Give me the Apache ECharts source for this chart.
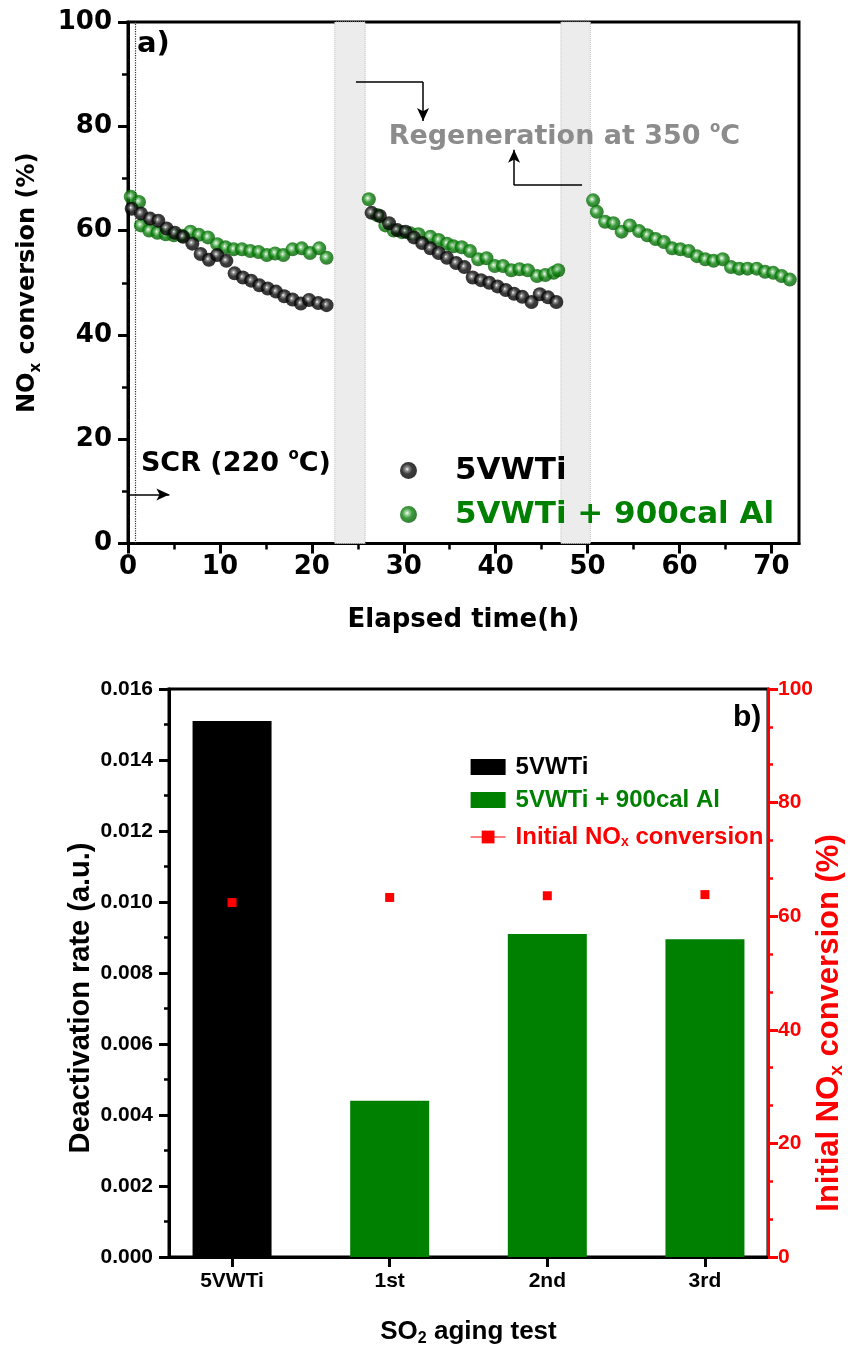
<!DOCTYPE html>
<html>
<head>
<meta charset="utf-8">
<script src="https://cdn.jsdelivr.net/npm/echarts@6/dist/echarts.min.js"></script>
<style>
  html, body { margin: 0; padding: 0; background: #fff; }
  #main { width: 854px; height: 1358px; }
</style>
</head>
<body>
<div id="main"></div>
<script>
// a) NOx conversion during SO2 aging, three 22 h runs with regeneration between
var vwtiTime = [0.4, 1.4, 2.4, 3.3, 4.2, 5.1, 6.0, 7.0, 7.9, 8.8, 9.7, 10.7, 11.6, 12.5, 13.4, 14.3, 15.2, 16.1, 17.0, 17.9, 18.8, 19.7, 20.7, 21.6,
  26.5, 27.4, 28.4, 29.3, 30.2, 31.1, 32.0, 32.9, 33.8, 34.7, 35.7, 36.6, 37.5, 38.4, 39.3, 40.2, 41.1, 42.0, 42.9, 43.9, 44.8, 45.7, 46.6];
var vwtiConv = [64.2, 63.3, 62.3, 61.9, 60.4, 59.6, 58.8, 57.5, 55.5, 54.4, 55.3, 54.2, 51.8, 51.0, 50.4, 49.5, 48.9, 48.3, 47.4, 46.8, 46.0, 46.7, 46.1, 45.7,
  63.4, 62.8, 61.4, 60.1, 59.8, 58.7, 57.6, 56.6, 55.7, 54.8, 53.8, 53.0, 51.0, 50.5, 50.0, 49.3, 48.6, 47.9, 47.3, 46.3, 47.8, 47.2, 46.3];
var alTime = [0.3, 1.2, 1.4, 2.3, 3.2, 4.1, 5.0, 5.9, 6.8, 7.7, 8.7, 9.7, 10.6, 11.5, 12.4, 13.3, 14.2, 15.1, 16.0, 16.9, 17.9, 18.9, 19.8, 20.8, 21.6,
  26.2, 27.1, 28.0, 28.9, 29.8, 30.7, 31.6, 32.9, 33.8, 34.7, 35.4, 36.3, 37.2, 38.1, 39.0, 39.9, 40.8, 41.7, 42.6, 43.5, 44.5, 45.4, 46.3, 46.8,
  50.6, 51.0, 51.9, 52.8, 53.7, 54.6, 55.6, 56.5, 57.4, 58.3, 59.2, 60.1, 61.0, 61.9, 62.8, 63.7, 64.7, 65.6, 66.5, 67.4, 68.4, 69.3, 70.2, 71.1, 72.0];
var alConv = [66.5, 65.5, 61.0, 60.0, 59.6, 59.3, 59.1, 59.0, 59.8, 59.2, 58.7, 57.4, 56.8, 56.4, 56.4, 56.1, 55.9, 55.3, 55.6, 55.3, 56.4, 56.6, 55.7, 56.6, 54.8,
  66.0, 63.0, 61.0, 60.0, 59.7, 59.5, 59.3, 58.8, 58.2, 57.5, 57.0, 56.8, 56.1, 54.5, 54.7, 53.2, 53.2, 52.4, 52.6, 52.4, 51.3, 51.5, 51.9, 52.4,
  65.8, 63.6, 61.7, 61.4, 59.8, 61.0, 59.9, 59.1, 58.4, 57.8, 56.6, 56.4, 56.1, 55.1, 54.5, 54.2, 54.5, 53.0, 52.7, 52.7, 52.7, 52.1, 51.9, 51.3, 50.6];
var regenBands = [[22.5, 25.8], [47.1, 50.3]];
var timeTicks = [0, 10, 20, 30, 40, 50, 60, 70];
var timeMinorTicks = [5, 15, 25, 35, 45, 55, 65];

// b) deactivation rate and initial conversion
var samples = ['5VWTi', '1st', '2nd', '3rd'];
var samplePos = [1, 2, 3, 4];
var deactRate = [0.0151, 0.0044, 0.0091, 0.00895];
var initConv = [62.4, 63.3, 63.6, 63.8];

var FA = 'DejaVu Sans';
var FB = 'Liberation Sans';
var GREEN = '#008000';
var RED = '#ff0000';

function pairs(xs, ys) {
  return xs.map(function (x, i) { return [x, ys[i]]; });
}

function ball(c1, c2, c3) {
  return {
    type: 'radial', x: 0.42, y: 0.42, r: 0.6,
    colorStops: [
      { offset: 0, color: '#ffffff' },
      { offset: 0.18, color: c1 },
      { offset: 0.5, color: c2 },
      { offset: 1, color: c3 }
    ]
  };
}

var barData = pairs(samplePos, deactRate);
var legendText = {
  bRef: '{n|5VWTi}',
  bAl: '{n|5VWTi + 900cal Al}',
  bInit: '{n|Initial NO}{s|x}{n| conversion}'
};

var chart = echarts.init(document.getElementById('main'), null, { renderer: 'canvas' });

var option = {
  animation: false,
  backgroundColor: '#fff',
  textStyle: { fontFamily: FA },
  title: [
    { text: 'a)', left: 137, top: 30, padding: 0,
      textStyle: { fontFamily: FA, fontWeight: 'bold', fontSize: 29, color: '#000' } },
    { text: 'b)', left: 733, top: 703, padding: 0,
      textStyle: { fontFamily: FB, fontWeight: 'bold', fontSize: 30, color: '#000' } }
  ],
  grid: [
    { left: 128, top: 22, width: 671, height: 521.5, show: true, borderColor: '#000', borderWidth: 3,
      backgroundColor: 'transparent', containLabel: false, outerBoundsMode: 'none' },
    { left: 169, top: 689, width: 599, height: 568, show: true, borderColor: '#000', borderWidth: 3,
      backgroundColor: 'transparent', containLabel: false, outerBoundsMode: 'none' }
  ],
  legend: [
    {
      orient: 'vertical', left: 400, top: 455, padding: 0,
      itemWidth: 17, itemHeight: 17, itemGap: 13, selectedMode: false,
      textStyle: { fontFamily: FA, fontWeight: 'bold', fontSize: 31, lineHeight: 30, padding: [0, 0, 0, 33] },
      data: [
        { name: '5VWTi', textStyle: { color: '#000' } },
        { name: '5VWTi + 900cal Al', textStyle: { color: GREEN } }
      ]
    },
    {
      orient: 'vertical', left: 470, top: 755, padding: 0,
      itemWidth: 35, itemHeight: 16, itemGap: 9, selectedMode: false,
      formatter: function (name) { return legendText[name]; },
      textStyle: {
        padding: [0, 0, 0, 5],
        rich: {
          n: { fontFamily: FB, fontWeight: 'bold', fontSize: 24, lineHeight: 24, verticalAlign: 'top' },
          s: { fontFamily: FB, fontWeight: 'bold', fontSize: 14, lineHeight: 14, verticalAlign: 'bottom', padding: [14, 0, 0, 0] }
        }
      },
      data: [
        { name: 'bRef', icon: 'rect', textStyle: { color: '#000' } },
        { name: 'bAl', icon: 'rect', textStyle: { color: GREEN } },
        { name: 'bInit', textStyle: { color: RED }, lineStyle: { opacity: 1, width: 1.2, color: RED } }
      ]
    }
  ],
  xAxis: [
    {
      gridIndex: 0, type: 'value', min: 0, max: 73, interval: 10,
      name: 'Elapsed time(h)', nameLocation: 'middle', nameGap: 64, nameMoveOverlap: false,
      nameTextStyle: { fontFamily: FA, fontWeight: 'bold', fontSize: 26, color: '#000' },
      axisLine: { show: true, onZero: false, lineStyle: { color: '#000', width: 3 } },
      axisTick: { show: true, customValues: timeTicks, length: 10, lineStyle: { color: '#000', width: 3 } },
      axisLabel: { customValues: timeTicks, fontFamily: FA, fontWeight: 'bold', fontSize: 26, color: '#000', margin: 11 },
      splitLine: { show: false }
    },
    {
      gridIndex: 0, type: 'value', min: 0, max: 73, position: 'bottom',
      axisLine: { show: false },
      axisTick: { show: true, customValues: timeMinorTicks, length: 6, lineStyle: { color: '#000', width: 2.5 } },
      axisLabel: { show: false },
      splitLine: { show: false }
    },
    {
      gridIndex: 1, type: 'value', min: 0.6, max: 4.4,
      name: '{b|SO}{s|2}{b| aging test}', nameLocation: 'middle', nameGap: 62, nameMoveOverlap: false,
      nameTextStyle: {
        rich: {
          b: { fontFamily: FB, fontWeight: 'bold', fontSize: 26, lineHeight: 28, verticalAlign: 'top', color: '#000' },
          s: { fontFamily: FB, fontWeight: 'bold', fontSize: 16, lineHeight: 16, verticalAlign: 'bottom', padding: [17, 0, 0, 0], color: '#000' }
        }
      },
      axisLine: { show: true, onZero: false, lineStyle: { color: '#000', width: 3 } },
      axisTick: { show: true, customValues: samplePos, length: 10, lineStyle: { color: '#000', width: 3 } },
      axisLabel: {
        customValues: samplePos, fontFamily: FB, fontWeight: 'bold', fontSize: 21, color: '#000', margin: 14,
        formatter: function (v) { return samples[Math.round(v) - 1]; }
      },
      splitLine: { show: false }
    }
  ],
  yAxis: [
    {
      gridIndex: 0, type: 'value', min: 0, max: 100, interval: 20,
      name: '{b|NO}{s|x}{b| conversion (%)}', nameLocation: 'middle', nameGap: 84, nameRotate: 90, nameMoveOverlap: false,
      nameTextStyle: {
        rich: {
          b: { fontFamily: FA, fontWeight: 'bold', fontSize: 24, lineHeight: 28, verticalAlign: 'top', color: '#000' },
          s: { fontFamily: FA, fontWeight: 'bold', fontSize: 15, lineHeight: 15, verticalAlign: 'bottom', padding: [16, 0, 0, 0], color: '#000' }
        }
      },
      axisLine: { show: true, onZero: false, lineStyle: { color: '#000', width: 3 } },
      axisTick: { show: true, length: 10, lineStyle: { color: '#000', width: 3 } },
      minorTick: { show: true, splitNumber: 2, length: 6, lineStyle: { color: '#000', width: 2.5 } },
      axisLabel: { fontFamily: FA, fontWeight: 'bold', fontSize: 26, color: '#000', margin: 16 },
      splitLine: { show: false },
      minorSplitLine: { show: false }
    },
    {
      gridIndex: 1, type: 'value', min: 0, max: 0.016, interval: 0.002,
      name: 'Deactivation rate (a.u.)', nameLocation: 'middle', nameGap: 74, nameRotate: 90, nameMoveOverlap: false,
      nameTextStyle: { fontFamily: FB, fontWeight: 'bold', fontSize: 29, color: '#000', padding: [0, 50, 0, 0] },
      axisLine: { show: true, onZero: false, lineStyle: { color: '#000', width: 3 } },
      axisTick: { show: true, length: 10, lineStyle: { color: '#000', width: 3 } },
      minorTick: { show: true, splitNumber: 2, length: 5, lineStyle: { color: '#000', width: 2.5 } },
      axisLabel: {
        fontFamily: FB, fontWeight: 'bold', fontSize: 21, color: '#000', margin: 16,
        formatter: function (v) { return v.toFixed(3); }
      },
      splitLine: { show: false },
      minorSplitLine: { show: false }
    },
    {
      gridIndex: 1, type: 'value', position: 'right', min: 0, max: 100, interval: 20,
      name: '{r|Initial NO}{s|x}{r| conversion (%)}', nameLocation: 'middle', nameGap: 46, nameRotate: 90, nameMoveOverlap: false,
      nameTextStyle: {
        padding: [0, 100, 0, 0],
        rich: {
          r: { fontFamily: FB, fontWeight: 'bold', fontSize: 31, lineHeight: 32, verticalAlign: 'top', color: RED },
          s: { fontFamily: FB, fontWeight: 'bold', fontSize: 19, lineHeight: 19, verticalAlign: 'bottom', padding: [19, 0, 0, 0], color: RED }
        }
      },
      axisLine: { show: true, onZero: false, lineStyle: { color: RED, width: 3 } },
      axisTick: { show: true, length: 10, lineStyle: { color: RED, width: 3 } },
      minorTick: { show: true, splitNumber: 3, length: 5, lineStyle: { color: RED, width: 2.5 } },
      axisLabel: { fontFamily: FB, fontWeight: 'bold', fontSize: 21, color: RED, margin: 10 },
      splitLine: { show: false },
      minorSplitLine: { show: false }
    }
  ],
  series: [
    {
      name: '5VWTi + 900cal Al', type: 'scatter', xAxisIndex: 0, yAxisIndex: 0,
      data: pairs(alTime, alConv),
      symbol: 'circle', symbolSize: 14,
      itemStyle: { color: ball('#8fce8f', '#0b800b', '#005a00') },
      emphasis: { disabled: true },
      markArea: {
        silent: true,
        itemStyle: { color: '#ececec', borderColor: '#bdbdbd', borderWidth: 1, borderType: 'dotted' },
        label: { show: false },
        data: regenBands.map(function (b) { return [{ xAxis: b[0] }, { xAxis: b[1] }]; })
      }
    },
    {
      name: '5VWTi', type: 'scatter', xAxisIndex: 0, yAxisIndex: 0,
      data: pairs(vwtiTime, vwtiConv),
      symbol: 'circle', symbolSize: 14,
      itemStyle: { color: ball('#7a7a7a', '#0a0a0a', '#000000') },
      emphasis: { disabled: true },
      markLine: {
        silent: true,
        symbol: ['none', 'none'],
        label: { show: false },
        lineStyle: { color: '#000', width: 1.5, type: 'solid' },
        data: [
          { xAxis: 0.8, lineStyle: { type: 'dotted', width: 1.2, color: '#333' } },
          [{ coord: [24.8, 88.5] }, { coord: [32.1, 88.5] }],
          [{ coord: [32.1, 88.5] }, { coord: [32.1, 81.0], symbol: 'arrow', symbolSize: [9, 13] }],
          [{ coord: [49.4, 68.7] }, { coord: [42.0, 68.7] }],
          [{ coord: [42.0, 68.7] }, { coord: [42.0, 75.5], symbol: 'arrow', symbolSize: [9, 13] }],
          [{ coord: [0, 9.4] }, { coord: [4.5, 9.4], symbol: 'arrow', symbolSize: [9, 13] }]
        ]
      },
      markPoint: {
        silent: true,
        symbol: 'circle', symbolSize: 1,
        itemStyle: { color: 'transparent' },
        data: [
          {
            coord: [28.3, 78.3],
            label: {
              show: true, position: 'right', distance: 0,
              formatter: '{g|Regeneration at 350 }{o|o}{g|C}',
              rich: {
                g: { fontFamily: FA, fontWeight: 'bold', fontSize: 27, lineHeight: 30, verticalAlign: 'bottom', color: '#8c8c8c' },
                o: { fontFamily: FA, fontWeight: 'bold', fontSize: 15, lineHeight: 15, verticalAlign: 'top', color: '#8c8c8c' }
              }
            }
          },
          {
            coord: [1.35, 15.6],
            label: {
              show: true, position: 'right', distance: 0,
              formatter: '{t|SCR (220 }{o|o}{t|C)}',
              rich: {
                t: { fontFamily: FA, fontWeight: 'bold', fontSize: 27, lineHeight: 30, verticalAlign: 'bottom', color: '#000' },
                o: { fontFamily: FA, fontWeight: 'bold', fontSize: 15, lineHeight: 15, verticalAlign: 'top', color: '#000' }
              }
            }
          }
        ]
      }
    },
    {
      name: 'bRef', type: 'bar', xAxisIndex: 2, yAxisIndex: 1,
      data: barData.filter(function (d, i) { return i === 0; }),
      barWidth: 79, barGap: '-100%',
      itemStyle: { color: '#000' },
      emphasis: { disabled: true }
    },
    {
      name: 'bAl', type: 'bar', xAxisIndex: 2, yAxisIndex: 1,
      data: barData.filter(function (d, i) { return i > 0; }),
      barWidth: 79, barGap: '-100%',
      itemStyle: { color: GREEN },
      emphasis: { disabled: true }
    },
    {
      name: 'bInit', type: 'line', xAxisIndex: 2, yAxisIndex: 2,
      data: pairs(samplePos, initConv),
      symbol: 'rect', symbolSize: 9, showSymbol: true,
      itemStyle: { color: RED },
      lineStyle: { color: RED, width: 1, opacity: 0 },
      emphasis: { disabled: true },
      z: 5
    }
  ]
};

chart.setOption(option);
</script>
</body>
</html>
